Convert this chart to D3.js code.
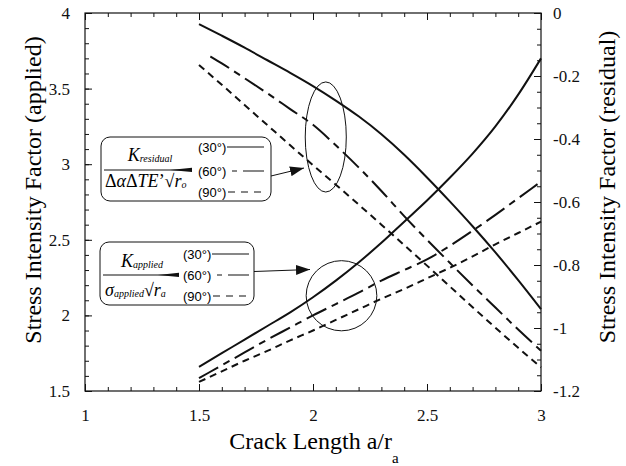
<!DOCTYPE html>
<html>
<head>
<meta charset="utf-8">
<script src="https://cdn.jsdelivr.net/npm/d3@7"></script>
<style>
  body { margin: 0; background: #fff; }
  svg { display: block; }
  svg text { font-family: "Liberation Serif", "Times New Roman", "DejaVu Serif", serif; }
  svg text.sans { font-family: "Liberation Sans", Arial, "DejaVu Sans", sans-serif; }
</style>
</head>
<body>
<div id="chart"></div>
<script>
/* CONSTANTS AND GLOBALS */
const width = 626;
const height = 466;
const plotLeft = 85, plotRight = 541, plotTop = 13, plotBottom = 391;
const serif = '"Liberation Serif", "Times New Roman", "DejaVu Serif", serif';

/* DATA */
const crackLength = [1.5, 1.6, 1.7, 1.8, 1.9, 2.0, 2.1, 2.2, 2.3, 2.4, 2.5, 2.6, 2.7, 2.8, 2.9, 3.0];
const crackLength60 = [1.55, 1.6, 1.7, 1.8, 1.9, 2.0, 2.1, 2.2, 2.3, 2.4, 2.5, 2.6, 2.7, 2.8, 2.9, 3.0];

// applied, left axis
const applied30 = [1.66, 1.75, 1.84, 1.93, 2.02, 2.12, 2.23, 2.35, 2.48, 2.62, 2.76, 2.91, 3.07, 3.25, 3.46, 3.70];
const applied60 = [1.585, 1.67, 1.755, 1.84, 1.92, 2.00, 2.075, 2.15, 2.23, 2.30, 2.37, 2.46, 2.56, 2.665, 2.775, 2.885];
const applied90 = [1.56, 1.63, 1.70, 1.765, 1.835, 1.90, 1.97, 2.04, 2.11, 2.175, 2.245, 2.315, 2.39, 2.47, 2.545, 2.62];

// residual, right axis
const residual30 = [-0.035, -0.072, -0.110, -0.150, -0.190, -0.232, -0.278, -0.328, -0.385, -0.450, -0.522, -0.598, -0.677, -0.760, -0.848, -0.940];
const residual60 = [-0.138, -0.160, -0.207, -0.255, -0.305, -0.355, -0.420, -0.490, -0.565, -0.645, -0.720, -0.793, -0.865, -0.935, -1.005, -1.072];
const residual90 = [-0.165, -0.228, -0.292, -0.356, -0.420, -0.483, -0.545, -0.608, -0.672, -0.737, -0.802, -0.868, -0.934, -0.999, -1.063, -1.125];

const xTicks = [1, 1.5, 2, 2.5, 3];
const xTickLabels = ["1", "1.5", "2", "2.5", "3"];
const leftTicks = [1.5, 2, 2.5, 3, 3.5, 4];
const leftTickLabels = ["1.5", "2", "2.5", "3", "3.5", "4"];
const rightTicks = [-1.2, -1, -0.8, -0.6, -0.4, -0.2, 0];
const rightTickLabels = ["-1.2", "-1", "-0.8", "-0.6", "-0.4", "-0.2", "0"];
const angles = ["(30°)", "(60°)", "(90°)"];

const dash = { "30": null, "60": "22,6,7,6", "90": "7,5" };

/* SCALES */
const x = d3.scaleLinear().domain([1, 3]).range([plotLeft, plotRight]);
const yLeft = d3.scaleLinear().domain([1.5, 4]).range([plotBottom, plotTop]);
const yRight = d3.scaleLinear().domain([-1.2, 0]).range([plotBottom, plotTop]);

const svg = d3.select("#chart")
  .append("svg")
  .attr("width", width)
  .attr("height", height)
  .style("background-color", "white");

/* AXES, ticks point inward */
const minorX = d3.range(1, 3.001, 0.1).map(d => +d.toFixed(2));
const minorLeft = d3.range(1.5, 4.001, 0.1).map(d => +d.toFixed(2));
const minorRight = d3.range(-1.2, 0.001, 0.05).map(d => +d.toFixed(2));

function styleAxis(g) {
  g.attr("font-family", null);
  g.selectAll(".domain").remove();
  g.selectAll("line").attr("stroke", "#111").attr("stroke-width", 1);
  g.selectAll("text").style("font-family", serif).attr("font-size", 17).attr("fill", "#111");
}

// minor ticks
svg.append("g").attr("transform", `translate(0,${plotBottom})`)
  .call(d3.axisBottom(x).tickValues(minorX).tickSize(-4).tickFormat("")).call(styleAxis);
svg.append("g").attr("transform", `translate(0,${plotTop})`)
  .call(d3.axisTop(x).tickValues(minorX).tickSize(-4).tickFormat("")).call(styleAxis);
svg.append("g").attr("transform", `translate(${plotLeft},0)`)
  .call(d3.axisLeft(yLeft).tickValues(minorLeft).tickSize(-4).tickFormat("")).call(styleAxis);
svg.append("g").attr("transform", `translate(${plotRight},0)`)
  .call(d3.axisRight(yRight).tickValues(minorRight).tickSize(-4).tickFormat("")).call(styleAxis);

// major ticks + labels
svg.append("g").attr("transform", `translate(0,${plotBottom})`)
  .call(d3.axisBottom(x).tickValues(xTicks).tickSize(-7).tickPadding(18)
    .tickFormat((d, i) => xTickLabels[i])).call(styleAxis);
svg.append("g").attr("transform", `translate(0,${plotTop})`)
  .call(d3.axisTop(x).tickValues(xTicks).tickSize(-7).tickFormat("")).call(styleAxis);
svg.append("g").attr("transform", `translate(${plotLeft},0)`)
  .call(d3.axisLeft(yLeft).tickValues(leftTicks).tickSize(-7).tickPadding(15)
    .tickFormat((d, i) => leftTickLabels[i])).call(styleAxis);
svg.append("g").attr("transform", `translate(${plotRight},0)`)
  .call(d3.axisRight(yRight).tickValues(rightTicks).tickSize(-7).tickPadding(12)
    .tickFormat((d, i) => rightTickLabels[i])).call(styleAxis);

// frame
svg.append("rect")
  .attr("x", plotLeft).attr("y", plotTop)
  .attr("width", plotRight - plotLeft).attr("height", plotBottom - plotTop)
  .attr("fill", "none").attr("stroke", "#111").attr("stroke-width", 1.2);

/* AXIS TITLES */
svg.append("text")
  .attr("transform", "translate(41,190) rotate(-90)")
  .attr("text-anchor", "middle")
  .attr("font-size", 24)
  .text("Stress Intensity Factor (applied)");

svg.append("text")
  .attr("transform", "translate(615,187) rotate(-90)")
  .attr("text-anchor", "middle")
  .attr("font-size", 24)
  .text("Stress Intensity Factor (residual)");

const xTitle = svg.append("text")
  .attr("x", 314).attr("y", 449)
  .attr("text-anchor", "middle")
  .attr("font-size", 24);
xTitle.append("tspan").text("Crack Length a/r");
xTitle.append("tspan").attr("font-size", 15).attr("dy", 14).text("a");

/* CURVES */
const lineLeft = d3.line()
  .x(d => x(d[0])).y(d => yLeft(d[1]))
  .curve(d3.curveMonotoneX);
const lineRight = d3.line()
  .x(d => x(d[0])).y(d => yRight(d[1]))
  .curve(d3.curveMonotoneX);

const series = [
  { values: d3.zip(crackLength, applied30), line: lineLeft, dash: dash["30"] },
  { values: d3.zip(crackLength, applied60), line: lineLeft, dash: dash["60"] },
  { values: d3.zip(crackLength, applied90), line: lineLeft, dash: dash["90"] },
  { values: d3.zip(crackLength, residual30), line: lineRight, dash: dash["30"] },
  { values: d3.zip(crackLength60, residual60), line: lineRight, dash: dash["60"] },
  { values: d3.zip(crackLength, residual90), line: lineRight, dash: dash["90"] }
];

svg.append("g")
  .selectAll("path")
  .data(series)
  .join("path")
  .attr("d", d => d.line(d.values))
  .attr("fill", "none")
  .attr("stroke", "#111")
  .attr("stroke-width", 2)
  .attr("stroke-dasharray", d => d.dash);

/* ANNOTATIONS: ellipses and arrows */
svg.append("defs").append("marker")
  .attr("id", "arrow")
  .attr("viewBox", "0 0 14 10")
  .attr("refX", 14).attr("refY", 5)
  .attr("markerWidth", 14).attr("markerHeight", 10)
  .attr("markerUnits", "userSpaceOnUse")
  .attr("orient", "auto")
  .append("path").attr("d", "M0,0 L14,5 L0,10 Z").attr("fill", "#111");

// upper ellipse around residual curves (left-axis units)
svg.append("ellipse")
  .attr("cx", x(2.056)).attr("cy", yLeft(3.18))
  .attr("rx", x(2.056 + 0.19) - x(2.056 + 0.1)).attr("ry", yLeft(3.18) - yLeft(3.18 + 0.364))
  .attr("fill", "none").attr("stroke", "#111").attr("stroke-width", 1);

// lower circle around applied curves
svg.append("ellipse")
  .attr("cx", x(2.125)).attr("cy", yLeft(2.13))
  .attr("rx", x(2.125 + 0.155) - x(2.125)).attr("ry", yLeft(2.13) - yLeft(2.13 + 0.232))
  .attr("fill", "none").attr("stroke", "#111").attr("stroke-width", 1);

svg.append("line")
  .attr("x1", 271).attr("y1", 176).attr("x2", 304).attr("y2", 168)
  .attr("stroke", "#111").attr("stroke-width", 1).attr("marker-end", "url(#arrow)");
svg.append("line")
  .attr("x1", 254).attr("y1", 271.5).attr("x2", 310).attr("y2", 269.5)
  .attr("stroke", "#111").attr("stroke-width", 1).attr("marker-end", "url(#arrow)");

/* LEGEND BOXES */
function legend(g, opts) {
  g.append("rect")
    .attr("x", opts.x).attr("y", opts.y)
    .attr("width", opts.w).attr("height", opts.h)
    .attr("rx", 9).attr("ry", 9)
    .attr("fill", "white").attr("stroke", "#111").attr("stroke-width", 1);

  // fraction bar with the radical overbar merging into it
  g.append("line")
    .attr("x1", opts.x + 3).attr("x2", opts.barEnd)
    .attr("y1", opts.barY).attr("y2", opts.barY)
    .attr("stroke", "#111").attr("stroke-width", 1.2);
  g.append("path")
    .attr("d", `M${opts.wedgeStart},${opts.barY} L${opts.barEnd},${opts.barY - 2.2} L${opts.barEnd},${opts.barY + 2} Z`)
    .attr("fill", "#111");

  angles.forEach((label, i) => {
    const ly = opts.rowY[i];
    g.append("text")
      .attr("class", "sans")
      .attr("x", opts.labelX).attr("y", ly + 4.5)
      .attr("font-size", 13)
      .text(label);
    g.append("line")
      .attr("x1", opts.lineX).attr("x2", opts.lineEnd)
      .attr("y1", ly).attr("y2", ly)
      .attr("stroke", "#111").attr("stroke-width", 1.1)
      .attr("stroke-dasharray", i === 1 ? "0,5,5,6,21,0" : i === 2 ? "0,1,7,5" : null);
  });
}

// residual legend
const upper = svg.append("g");
legend(upper, {
  x: 101, y: 137, w: 170, h: 64,
  barY: 170, barEnd: 192, wedgeStart: 170,
  rowY: [147, 171, 192], labelX: 198, lineX: 227, lineEnd: 264
});
const numU = upper.append("text")
  .attr("x", 150).attr("y", 161).attr("text-anchor", "middle")
  .attr("font-style", "italic").attr("font-size", 18);
numU.append("tspan").text("K");
numU.append("tspan").attr("font-size", 10).attr("dy", 1).text("residual");
const denU = upper.append("text")
  .attr("x", 105).attr("y", 187)
  .attr("font-size", 18);
denU.append("tspan").text("Δ");
denU.append("tspan").attr("font-style", "italic").text("α");
denU.append("tspan").text("Δ");
denU.append("tspan").attr("font-style", "italic").text("TE");
denU.append("tspan").text("’√");
denU.append("tspan").attr("font-style", "italic").text("r");
denU.append("tspan").attr("font-style", "italic").attr("font-size", 10).attr("dy", 1).text("o");

// applied legend
const lower = svg.append("g");
legend(lower, {
  x: 100, y: 242, w: 154, h: 63,
  barY: 275, barEnd: 179, wedgeStart: 158,
  rowY: [254, 275, 296], labelX: 183, lineX: 212, lineEnd: 249
});
const numL = lower.append("text")
  .attr("x", 142).attr("y", 267).attr("text-anchor", "middle")
  .attr("font-style", "italic").attr("font-size", 18);
numL.append("tspan").text("K");
numL.append("tspan").attr("font-size", 10).attr("dy", 1).text("applied");
const denL = lower.append("text")
  .attr("x", 105).attr("y", 296)
  .attr("font-size", 18);
denL.append("tspan").attr("font-style", "italic").text("σ");
denL.append("tspan").attr("font-style", "italic").attr("font-size", 10).attr("dy", 1).text("applied");
denL.append("tspan").attr("dy", -1).text("√");
denL.append("tspan").attr("font-style", "italic").text("r");
denL.append("tspan").attr("font-style", "italic").attr("font-size", 10).attr("dy", 1).text("a");
</script>
</body>
</html>
